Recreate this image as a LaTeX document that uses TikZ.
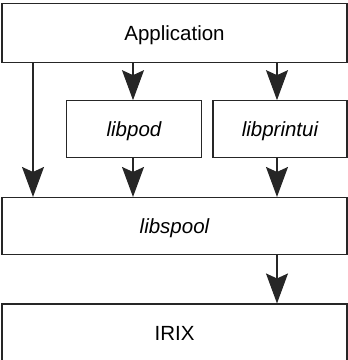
\documentclass[tikz,border=0pt]{standalone}
\usepackage{fontspec}
\setmainfont{Liberation Sans}
\usetikzlibrary{arrows.meta}
\begin{document}
\begin{tikzpicture}[x=1pt,y=-1pt,
  box/.style={draw=black!85,line width=1.1pt,rectangle,inner sep=0pt,text depth=0pt,font=\fontsize{20.5}{24}\selectfont},
  arr/.style={draw=black!85,line width=1.1pt,-{Stealth[length=30pt,width=22pt,inset=5pt]}}]
\clip (0,0) rectangle (348,360);
\node[box,minimum width=345pt,minimum height=59pt] (app) at (174.5,33) {Application};
\node[box,minimum width=135pt,minimum height=57pt] (pod) at (134,129.2) {\itshape libpod};
\node[box,minimum width=134pt,minimum height=57pt] (pui) at (280,129.2) {\itshape libprintui};
\node[box,minimum width=345pt,minimum height=57pt] (spool) at (174.5,226) {\itshape libspool};
\node[box,minimum width=345pt,minimum height=58pt] (irix) at (174.5,333) {IRIX};
\coordinate (lx) at (33,0);
\coordinate (mx) at (133,0);
\coordinate (rx) at (277,0);
\draw[arr] (app.south -| lx) -- (spool.north -| lx);
\draw[arr] (app.south -| mx) -- (pod.north -| mx);
\draw[arr] (app.south -| rx) -- (pui.north -| rx);
\draw[arr] (pod.south -| mx) -- (spool.north -| mx);
\draw[arr] (pui.south -| rx) -- (spool.north -| rx);
\draw[arr] (spool.south -| rx) -- (irix.north -| rx);
\end{tikzpicture}
\end{document}
